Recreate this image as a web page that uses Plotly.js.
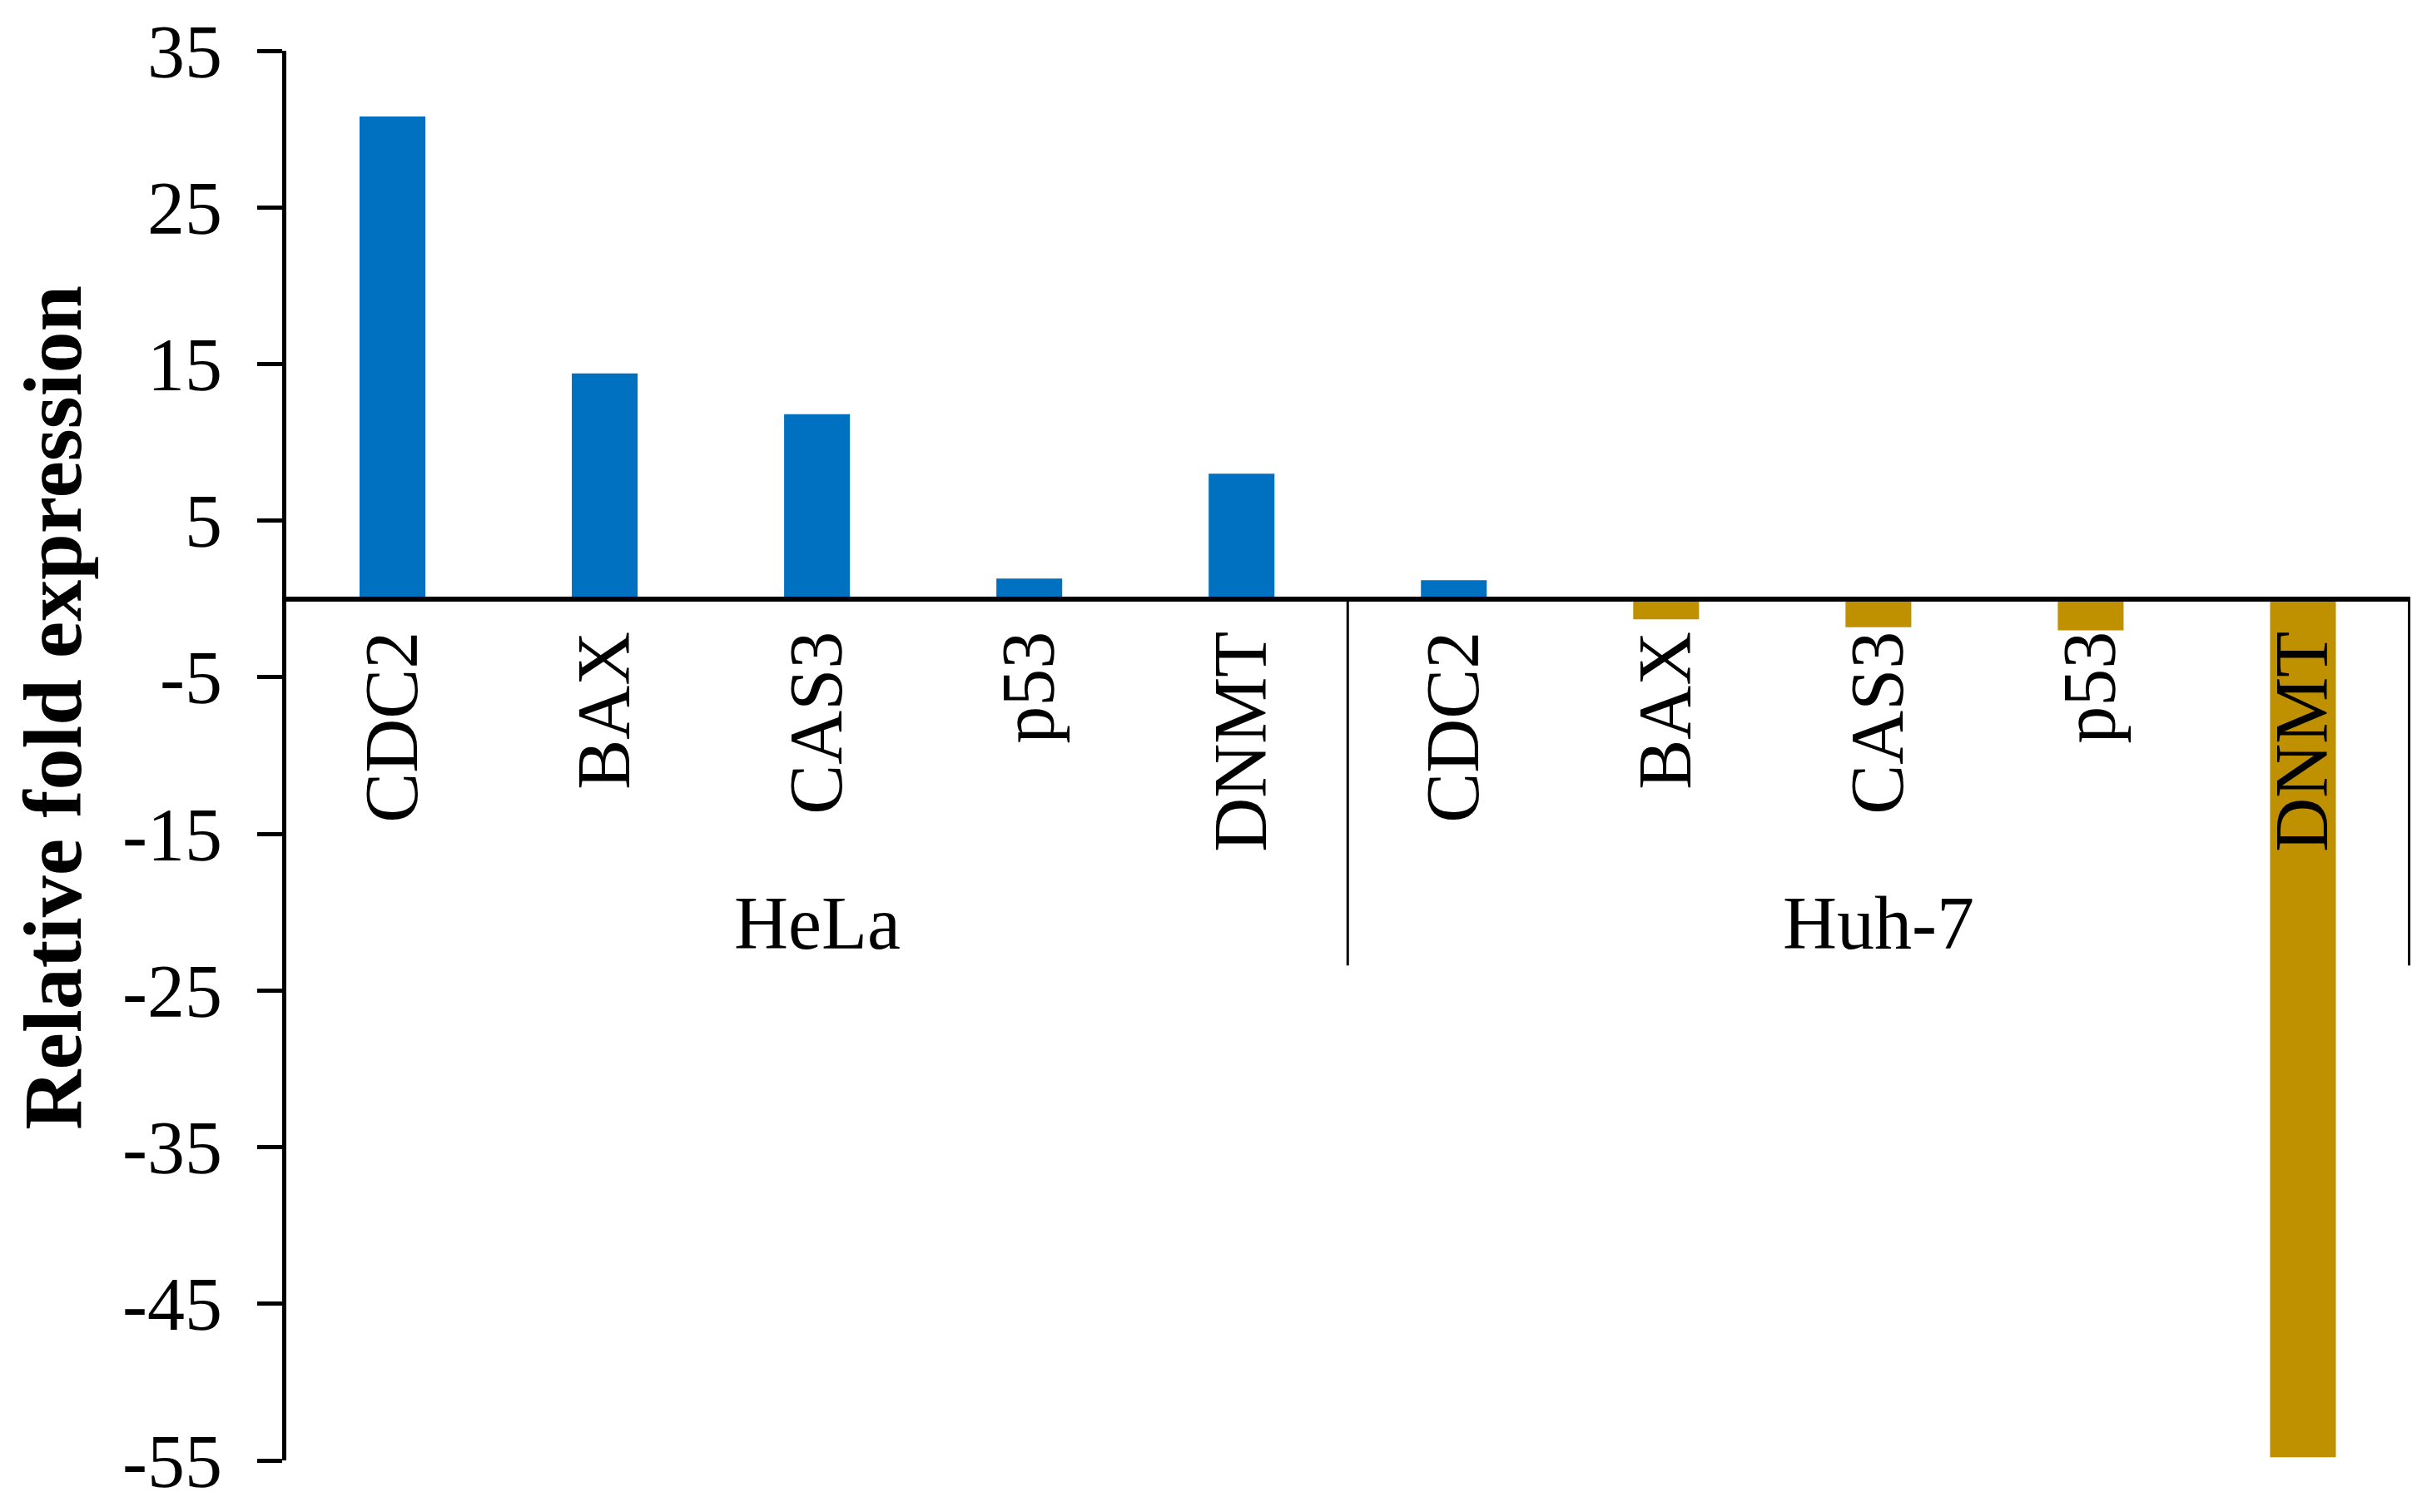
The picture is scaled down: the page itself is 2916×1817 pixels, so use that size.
<!DOCTYPE html>
<html>
<head>
<meta charset="utf-8">
<script src="https://cdn.plot.ly/plotly-3.0.1.min.js"></script>
<style>html,body{margin:0;padding:0;background:#fff;}</style>
</head>
<body>
<div id="chart" style="width:2916px;height:1817px;"></div>
<script>
// Relative fold expression of five genes in two cell lines
const cellLines = ['HeLa', 'HeLa', 'HeLa', 'HeLa', 'HeLa', 'Huh-7', 'Huh-7', 'Huh-7', 'Huh-7', 'Huh-7'];
const genes = ['CDC2', 'BAX', 'CAS3', 'p53', 'DNMT', 'CDC2', 'BAX', 'CAS3', 'p53', 'DNMT'];
const foldExpression = [30.8, 14.4, 11.8, 1.3, 8.0, 1.2, -1.3, -1.8, -2.0, -54.8];
const yTicks = [35, 25, 15, 5, -5, -15, -25, -35, -45, -55];

const UP = '#0070C0', DOWN = '#BF9000';
const FONT = '"Liberation Serif", "Times New Roman", serif';
const yMin = -55, yMax = 35;
const GROUP_LABEL_Y = 0.381;   // paper fraction for the cell-line labels
const DIVIDER_END = -23.4;     // y value where the group dividers stop

// unique category keys, the gene name is shown as tick text
const keys = genes.map((g, i) => `${cellLines[i]} ${g}`);

const groups = [...new Set(cellLines)].map((name) => {
  const idx = cellLines.map((c, i) => (c === name ? i : -1)).filter((i) => i >= 0);
  return { name, first: idx[0], last: idx[idx.length - 1] };
});

const trace = {
  type: 'bar',
  x: keys,
  y: foldExpression,
  // up-regulated bars blue, down-regulated gold
  marker: { color: foldExpression.map((v) => (v >= 0 ? UP : DOWN)), line: { width: 0 } },
  hovertemplate: '%{x}: %{y}<extra></extra>',
};

const layout = {
  width: 2916, height: 1817,
  margin: { l: 344, r: 20, t: 61, b: 62 },
  paper_bgcolor: '#fff', plot_bgcolor: '#fff',
  font: { family: FONT, size: 90, color: '#000' },
  showlegend: false,
  bargap: 0.69,
  xaxis: {
    type: 'category',
    anchor: 'free',
    // x axis crosses the y axis at 0
    position: (0 - yMin) / (yMax - yMin),
    tickvals: keys, ticktext: genes,
    showline: true, linecolor: '#000', linewidth: 6,
    ticks: '', tickangle: -90,
    tickfont: { family: FONT, size: 90, color: '#000' },
    showgrid: false, zeroline: false,
  },
  yaxis: {
    range: [yMin, yMax],
    tickvals: yTicks,
    ticktext: yTicks.map(String),
    ticks: 'outside', ticklen: 30, tickwidth: 5, tickcolor: '#000',
    showline: true, linecolor: '#000', linewidth: 5,
    showgrid: false, zeroline: false,
    tickfont: { family: FONT, size: 90, color: '#000' },
    ticklabelstandoff: 24,
  },
  shapes: groups.map((g) => ({
    type: 'line', xref: 'x', yref: 'y',
    x0: g.last + 0.5, x1: g.last + 0.5, y0: 0, y1: DIVIDER_END,
    line: { color: '#000', width: 3 },
  })),
  annotations: [
    ...groups.map((g) => ({
      text: g.name, xref: 'x', yref: 'paper',
      x: (g.first + g.last) / 2, y: GROUP_LABEL_Y,
      xanchor: 'center', yanchor: 'middle', showarrow: false,
      font: { family: FONT, size: 90, color: '#000' },
    })),
    {
      text: '<b>Relative fold expression</b>',
      xref: 'paper', yref: 'paper', x: -0.11, y: 0.534,
      xanchor: 'center', yanchor: 'middle',
      textangle: -90, showarrow: false,
      font: { family: FONT, size: 100, color: '#000' },
    },
  ],
};

Plotly.newPlot('chart', [trace], layout, { displayModeBar: false, staticPlot: true });
</script>
</body>
</html>
